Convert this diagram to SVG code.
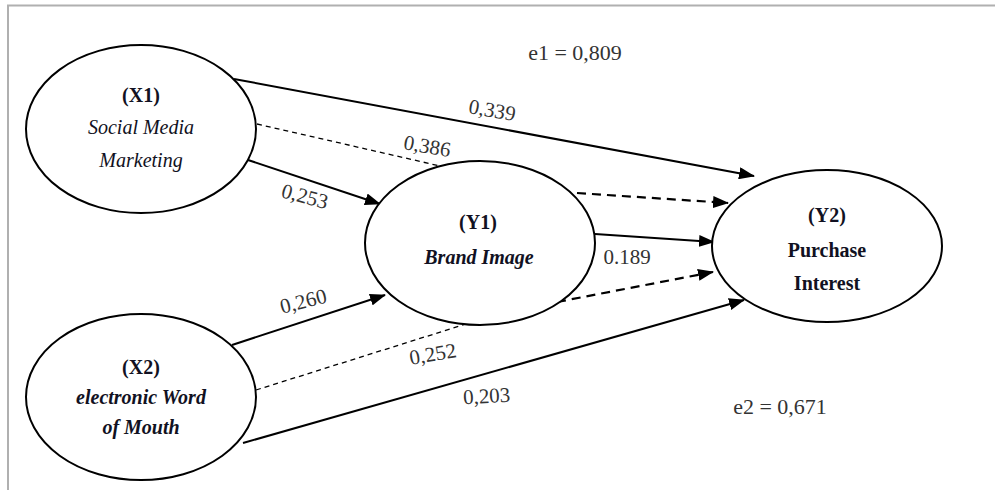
<svg xmlns="http://www.w3.org/2000/svg" width="995" height="490" viewBox="0 0 995 490">
  <style>
    .node { fill: #ffffff; stroke: #000000; stroke-width: 2; }
    .lbl { font-family: "Liberation Serif", "Times New Roman", serif; font-size: 20px; fill: #111122; text-anchor: middle; }
    .b { font-weight: bold; }
    .i { font-style: italic; }
    .coef { font-family: "Liberation Serif", "Times New Roman", serif; font-size: 21px; fill: #333333; text-anchor: middle; }
    .err { font-size: 22px; }
    .solid { stroke: #000000; stroke-width: 2; fill: none; }
    .dash-thin { stroke: #000000; stroke-width: 1.3; stroke-dasharray: 5 4; fill: none; }
    .dash-thick { stroke: #000000; stroke-width: 2.2; stroke-dasharray: 9 6; fill: none; }
  </style>
  <defs>
    <marker id="arrow" viewBox="0 0 16 12" refX="15" refY="6" markerWidth="16" markerHeight="12" markerUnits="userSpaceOnUse" orient="auto">
      <path d="M0,0 L16,6 L0,12 Z" fill="#000000"/>
    </marker>
  </defs>

  <rect width="995" height="490" fill="#ffffff"/>
  <!-- frame -->
  <path d="M8,490 L8,5.5 L995,5.5" fill="none" stroke="#b0b0b0" stroke-width="2"/>

  <!-- connectors -->
  <g id="connectors">
    <line class="solid" x1="234" y1="79" x2="754" y2="176" marker-end="url(#arrow)"/>
    <line class="dash-thin" x1="257" y1="124" x2="440" y2="166"/>
    <line class="solid" x1="248" y1="160" x2="380" y2="204" marker-end="url(#arrow)"/>
    <line class="solid" x1="232" y1="345" x2="385" y2="295" marker-end="url(#arrow)"/>
    <line class="dash-thin" x1="256" y1="390" x2="466" y2="324"/>
    <line class="solid" x1="243" y1="443" x2="744" y2="300" marker-end="url(#arrow)"/>
    <line class="dash-thick" x1="577" y1="193" x2="728" y2="203" marker-end="url(#arrow)"/>
    <line class="solid" x1="595" y1="234" x2="714" y2="242" marker-end="url(#arrow)"/>
    <line class="dash-thick" x1="557" y1="302" x2="713" y2="272" marker-end="url(#arrow)"/>
  </g>

  <!-- path coefficients -->
  <g id="coefficients">
    <text class="coef" transform="translate(491,117) rotate(10)">0,339</text>
    <text class="coef" transform="translate(426,153) rotate(10)">0,386</text>
    <text class="coef" transform="translate(303,203) rotate(15)">0,253</text>
    <text class="coef" transform="translate(305,308) rotate(-14)">0,260</text>
    <text class="coef" transform="translate(434,361) rotate(-10)">0,252</text>
    <text class="coef" transform="translate(487,403) rotate(-3)">0,203</text>
    <text class="coef" x="627" y="264">0.189</text>
    <text class="coef err" x="575" y="60">e1 = 0,809</text>
    <text class="coef err" x="780" y="414">e2 = 0,671</text>
  </g>

  <g id="X1">
    <ellipse class="node" cx="141" cy="129" rx="115" ry="84"/>
    <text class="lbl b" x="141" y="102">(X1)</text>
    <text class="lbl i" x="141" y="134">Social Media</text>
    <text class="lbl i" x="141" y="167">Marketing</text>
  </g>

  <g id="X2">
    <ellipse class="node" cx="141" cy="397" rx="115" ry="83"/>
    <text class="lbl b" x="141" y="374">(X2)</text>
    <text class="lbl b i" x="141" y="404">electronic Word</text>
    <text class="lbl b i" x="141" y="434">of Mouth</text>
  </g>

  <g id="Y1">
    <ellipse class="node" cx="480" cy="243" rx="115" ry="82"/>
    <text class="lbl b" x="478" y="229">(Y1)</text>
    <text class="lbl b i" x="479" y="264">Brand Image</text>
  </g>

  <g id="Y2">
    <ellipse class="node" cx="827" cy="246" rx="115" ry="76"/>
    <text class="lbl b" x="827" y="222">(Y2)</text>
    <text class="lbl b" x="827" y="257">Purchase</text>
    <text class="lbl b" x="827" y="290">Interest</text>
  </g>
</svg>
